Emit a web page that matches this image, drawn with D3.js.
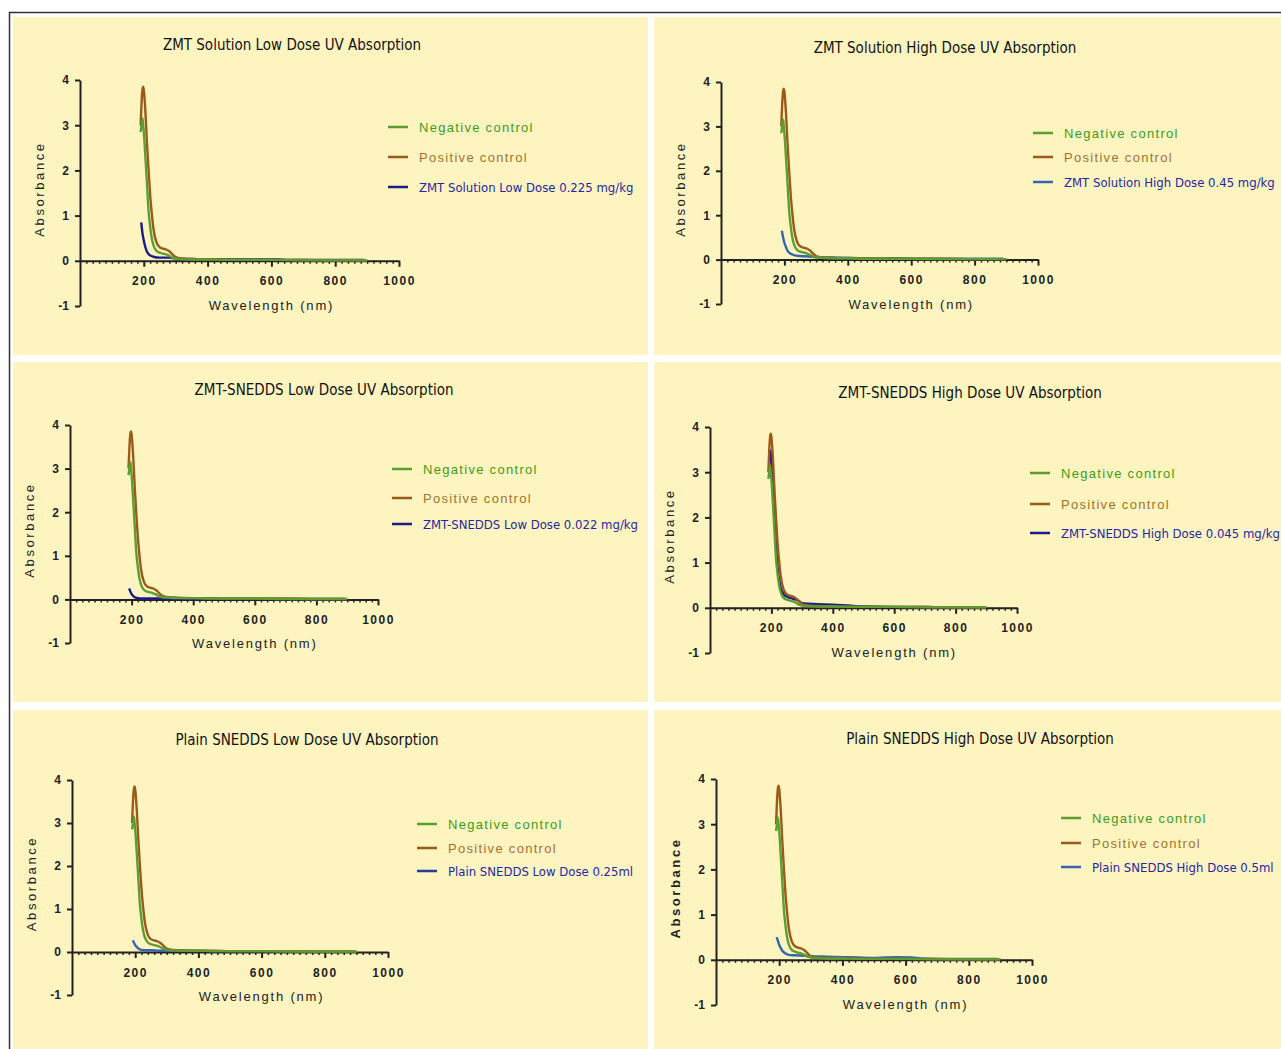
<!DOCTYPE html>
<html>
<head>
<meta charset="utf-8">
<script src="https://cdn.jsdelivr.net/npm/d3@7"></script>
<style>
  body { margin: 0; background: #fff; }
  svg { display: block; }
</style>
</head>
<body>
<div id="chart"></div>
<script>
// wavelength grid (nm) shared by the two controls
const wavelengths = [190, 193, 196, 198, 200, 205, 210, 215, 220, 225, 230, 240, 250, 260, 270, 280, 290, 300, 320, 350, 400, 450, 500, 600, 700, 800, 900];
const negControl  = [2.85, 3.0, 3.15, 3.0, 2.85, 2.3, 1.7, 1.1, 0.75, 0.5, 0.35, 0.22, 0.18, 0.16, 0.14, 0.11, 0.07, 0.05, 0.04, 0.03, 0.03, 0.02, 0.02, 0.02, 0.01, 0.01, 0.01];
const posControl  = [3.0, 3.5, 3.8, 3.85, 3.78, 3.3, 2.6, 2.0, 1.45, 1.05, 0.72, 0.4, 0.3, 0.27, 0.25, 0.21, 0.14, 0.08, 0.05, 0.04, 0.03, 0.03, 0.02, 0.02, 0.02, 0.01, 0.01];

// test samples, each with its own wavelength grid
const testWl      = [192, 196, 200, 205, 210, 220, 230, 250, 280, 300, 350, 400, 450, 500, 570, 620, 650, 700, 800, 890];
const zmtSolLow   = [0.85, 0.6, 0.45, 0.3, 0.2, 0.12, 0.09, 0.07, 0.07, 0.05, 0.04, 0.03, 0.03, 0.03, 0.03, 0.03, 0.02, 0.02, 0.02, 0.02];
const zmtSolHigh  = [0.65, 0.5, 0.38, 0.28, 0.2, 0.13, 0.1, 0.08, 0.07, 0.05, 0.05, 0.04, 0.03, 0.03, 0.03, 0.02, 0.02, 0.02, 0.02, 0.02];
const snedLow     = [0.25, 0.18, 0.12, 0.08, 0.05, 0.03, 0.02, 0.02, 0.02, 0.02, 0.01, 0.01, 0.01, 0.01, 0.01, 0.01, 0.01, 0.01, 0.01, 0.01];
const plainLow    = [0.27, 0.22, 0.16, 0.12, 0.08, 0.05, 0.04, 0.04, 0.03, 0.03, 0.03, 0.03, 0.02, 0.02, 0.02, 0.02, 0.02, 0.02, 0.02, 0.02];
const plainHigh   = [0.5, 0.42, 0.33, 0.26, 0.2, 0.14, 0.11, 0.1, 0.09, 0.08, 0.07, 0.06, 0.05, 0.04, 0.06, 0.05, 0.03, 0.02, 0.02, 0.02];
const snedHighWl  = [197, 200, 205, 210, 215, 220, 230, 240, 250, 270, 290, 300, 350, 400, 450, 500, 600, 700, 800, 890];
const snedHigh    = [3.5, 3.2, 2.6, 2.0, 1.4, 0.9, 0.45, 0.3, 0.25, 0.2, 0.15, 0.1, 0.08, 0.07, 0.05, 0.03, 0.02, 0.02, 0.01, 0.01];

const titles = [
  "ZMT Solution Low Dose UV Absorption", "ZMT Solution High Dose UV Absorption",
  "ZMT-SNEDDS Low Dose UV Absorption", "ZMT-SNEDDS High Dose UV Absorption",
  "Plain SNEDDS Low Dose UV Absorption", "Plain SNEDDS High Dose UV Absorption"
];
const testLabels = [
  "ZMT Solution Low Dose 0.225 mg/kg", "ZMT Solution High Dose 0.45 mg/kg",
  "ZMT-SNEDDS Low Dose 0.022 mg/kg", "ZMT-SNEDDS High Dose 0.045 mg/kg",
  "Plain SNEDDS Low Dose 0.25ml", "Plain SNEDDS High Dose 0.5ml"
];
const testX = [testWl, testWl, testWl, snedHighWl, testWl, testWl];
const testY = [zmtSolLow, zmtSolHigh, snedLow, snedHigh, plainLow, plainHigh];
const xTicks = [200, 400, 600, 800, 1000];
const yTicks = [-1, 0, 1, 2, 3, 4];

const navy = "#1b1b8c", mid = "#3664b0";
const green = "#5c9e32", brown = "#9a5a1a";
const testColors = [navy, mid, navy, navy, mid, mid];
const legendLineColors = [navy, mid, navy, navy, "#1f3f9e", mid];

// layout per panel: axis origin, 1000nm px, y=4 px, y=-1 px, title, legend
const layout = [
  { x0: 80,  x1: 399,  yt: 80,  yb: 306,  tx: 292, ty: 50,  lx: 388,  ly: [127, 157, 187] },
  { x0: 721, x1: 1038, yt: 82,  yb: 304,  tx: 945, ty: 53,  lx: 1033, ly: [133, 157, 182] },
  { x0: 70,  x1: 378,  yt: 425, yb: 643,  tx: 324, ty: 395, lx: 392,  ly: [469, 498, 524] },
  { x0: 710, x1: 1017, yt: 427, yb: 653,  tx: 970, ty: 398, lx: 1030, ly: [473, 504, 533] },
  { x0: 72,  x1: 388,  yt: 780, yb: 995,  tx: 307, ty: 745, lx: 417,  ly: [824, 848, 871] },
  { x0: 716, x1: 1032, yt: 779, yb: 1005, tx: 980, ty: 744, lx: 1061, ly: [818, 843, 867] }
];
const panelBoxes = [
  [13, 17, 635, 338], [654, 17, 627, 338],
  [13, 362, 635, 340], [654, 362, 627, 340],
  [13, 710, 635, 339], [654, 710, 627, 339]
];

const narrow = "'Liberation Sans Narrow', 'DejaVu Sans Condensed', 'Roboto Condensed', sans-serif";
const plain = "'Liberation Sans', Arial, sans-serif";

const svg = d3.select("#chart").append("svg")
  .attr("width", 1281)
  .attr("height", 1049);

svg.append("rect").attr("width", 1281).attr("height", 1049).attr("fill", "#fff");

svg.selectAll("rect.panel")
  .data(panelBoxes)
  .enter().append("rect")
  .attr("class", "panel")
  .attr("x", d => d[0]).attr("y", d => d[1])
  .attr("width", d => d[2]).attr("height", d => d[3])
  .attr("fill", "#fef4c0");

// outer frame (top and left edges only are visible)
svg.append("path")
  .attr("d", "M9.5,1049V12.5H1281")
  .attr("fill", "none")
  .attr("stroke", "#333")
  .attr("stroke-width", 1.5);

layout.forEach((L, i) => {
  let g = svg.append("g");
  let x = d3.scaleLinear().domain([0, 1000]).range([L.x0, L.x1]);
  let y = d3.scaleLinear().domain([-1, 4]).range([L.yb, L.yt]);

  g.append("text")
    .attr("x", L.tx).attr("y", L.ty)
    .attr("text-anchor", "middle")
    .style("font-family", narrow)
    .style("font-size", "15px")
    .attr("fill", "#111")
    .text(titles[i]);

  // minor ticks every 20 nm
  let y0 = y(0);
  g.append("g")
    .attr("transform", "translate(0," + y0 + ")")
    .call(d3.axisBottom(x).tickValues(d3.range(20, 1000, 20).filter(v => v % 200)).tickSize(3).tickSizeOuter(0).tickFormat(""))
    .call(a => a.select(".domain").remove())
    .call(a => a.selectAll("line").attr("stroke", "#222").attr("stroke-width", 1.5));

  let xa = g.append("g")
    .attr("transform", "translate(0," + y0 + ")")
    .call(d3.axisBottom(x).tickValues(xTicks).tickSize(6).tickSizeOuter(0).tickPadding(10).tickFormat(d => String(d)));
  xa.select(".domain").attr("stroke", "#222").attr("stroke-width", 2);
  xa.selectAll("line").attr("stroke", "#222").attr("stroke-width", 2);
  xa.selectAll("text")
    .attr("fill", "#222")
    .style("font-family", plain)
    .style("font-size", "12px")
    .style("font-weight", "bold")
    .style("letter-spacing", "1.5px");

  let ya = g.append("g")
    .attr("transform", "translate(" + L.x0 + ",0)")
    .call(d3.axisLeft(y).tickValues(yTicks).tickSize(5).tickSizeOuter(0).tickPadding(6).tickFormat(d => String(d)));
  ya.select(".domain").attr("stroke", "#222").attr("stroke-width", 2);
  ya.selectAll("line").attr("stroke", "#222").attr("stroke-width", 2);
  ya.selectAll("text")
    .attr("fill", "#222")
    .style("font-family", plain)
    .style("font-size", "12px")
    .style("font-weight", "bold");

  g.append("text")
    .attr("x", x(600)).attr("y", y0 + 49)
    .attr("text-anchor", "middle")
    .style("font-family", plain)
    .style("font-size", "13px")
    .style("letter-spacing", "1.8px")
    .attr("fill", "#222")
    .text("Wavelength (nm)");

  g.append("text")
    .attr("transform", "translate(" + (L.x0 - 36) + "," + ((L.yt + L.yb) / 2 - 4) + ") rotate(-90)")
    .attr("text-anchor", "middle")
    .style("font-family", plain)
    .style("font-size", "13px")
    .style("letter-spacing", "2.6px")
    .style("font-weight", i === 5 ? "bold" : "normal")
    .attr("fill", "#222")
    .text("Absorbance");

  let line = d3.line()
    .x(d => x(d[0]))
    .y(d => y(d[1]))
    .curve(d3.curveMonotoneX);

  let series = [
    { xs: wavelengths, ys: negControl, color: green },
    { xs: wavelengths, ys: posControl, color: brown },
    { xs: testX[i], ys: testY[i], color: testColors[i] }
  ];
  // draw order: test, brown, green on top
  [series[2], series[1], series[0]].forEach(s => {
    g.append("path")
      .datum(d3.zip(s.xs, s.ys))
      .attr("fill", "none")
      .attr("stroke", s.color)
      .attr("stroke-width", 2.4)
      .attr("d", line);
  });

  // legend
  let legend = [
    { label: "Negative control", line: green, text: "#3f9a22", font: plain, size: "13px", ls: "1.3px" },
    { label: "Positive control", line: brown, text: "#a3722c", font: plain, size: "13px", ls: "1.3px" },
    { label: testLabels[i], line: legendLineColors[i], text: "#2626a2", font: narrow, size: "13px", ls: "0px" }
  ];
  legend.forEach((d, k) => {
    g.append("line")
      .attr("x1", L.lx).attr("x2", L.lx + 20)
      .attr("y1", L.ly[k]).attr("y2", L.ly[k])
      .attr("stroke", d.line)
      .attr("stroke-width", 2.5);
    g.append("text")
      .attr("x", L.lx + 31).attr("y", L.ly[k] + 5)
      .style("font-family", d.font)
      .style("font-size", d.size)
      .style("letter-spacing", d.ls)
      .attr("fill", d.text)
      .text(d.label);
  });
});
</script>
</body>
</html>
